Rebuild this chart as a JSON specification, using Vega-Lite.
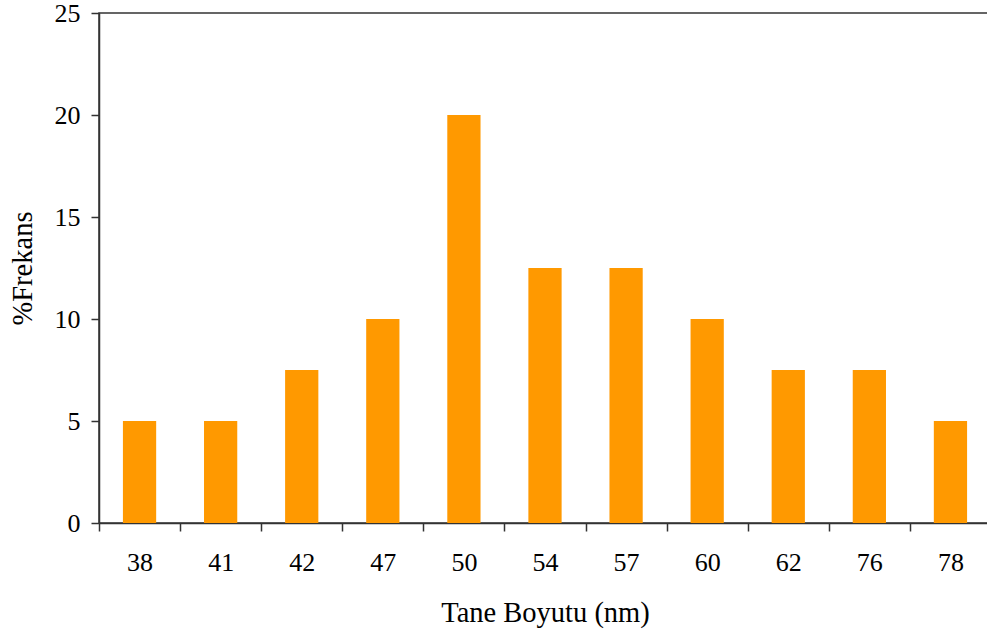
{
  "$schema": "https://vega.github.io/schema/vega-lite/v6.json",
  "autosize": {"type": "none"},
  "padding": {"left": 99, "top": 13, "right": 0, "bottom": 110},
  "width": 892,
  "height": 510,
  "background": "white",
  "config": {
    "view": {"stroke": "#333333", "strokeWidth": 1.5}
  },
  "data": {
    "values": [
      {"boyut": "38", "frekans": 5},
      {"boyut": "41", "frekans": 5},
      {"boyut": "42", "frekans": 7.5},
      {"boyut": "47", "frekans": 10},
      {"boyut": "50", "frekans": 20},
      {"boyut": "54", "frekans": 12.5},
      {"boyut": "57", "frekans": 12.5},
      {"boyut": "60", "frekans": 10},
      {"boyut": "62", "frekans": 7.5},
      {"boyut": "76", "frekans": 7.5},
      {"boyut": "78", "frekans": 5}
    ]
  },
  "mark": {"type": "bar", "color": "#FF9900", "width": {"band": 0.41}},
  "encoding": {
    "x": {
      "field": "boyut",
      "type": "ordinal",
      "sort": null,
      "scale": {"paddingInner": 0, "paddingOuter": 0},
      "axis": {
        "title": "Tane Boyutu (nm)",
        "labelAngle": 0,
        "tickBand": "extent",
        "labelFont": "Liberation Serif",
        "titleFont": "Liberation Serif",
        "labelFontSize": 26,
        "titleFontSize": 28.5,
        "titleFontWeight": "normal",
        "labelColor": "black",
        "titleColor": "black",
        "domainColor": "#333333",
        "domainWidth": 1.5,
        "tickColor": "#333333",
        "tickWidth": 1.5,
        "tickSize": 8,
        "labelPadding": 18,
        "titlePadding": 23
      }
    },
    "y": {
      "field": "frekans",
      "type": "quantitative",
      "scale": {"domain": [0, 25], "nice": false},
      "axis": {
        "title": "%Frekans",
        "values": [0, 5, 10, 15, 20, 25],
        "grid": false,
        "labelFont": "Liberation Serif",
        "titleFont": "Liberation Serif",
        "labelFontSize": 26,
        "titleFontSize": 28.5,
        "titleFontWeight": "normal",
        "labelColor": "black",
        "titleColor": "black",
        "domainColor": "#333333",
        "domainWidth": 1.5,
        "tickColor": "#333333",
        "tickWidth": 1.5,
        "tickSize": 8,
        "labelPadding": 11,
        "titlePadding": 17
      }
    }
  }
}
